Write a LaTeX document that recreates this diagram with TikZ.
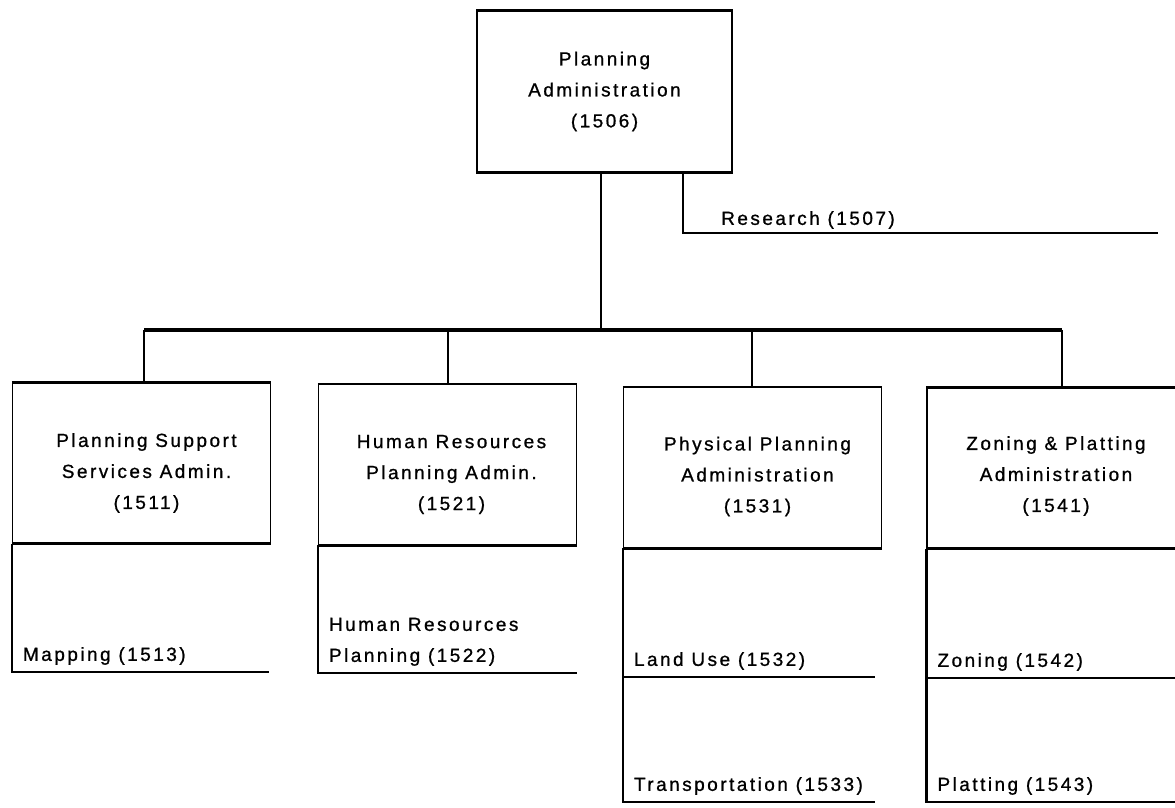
\documentclass[tikz,border=0pt]{standalone}
\usepackage{fontspec}
\setmainfont{Liberation Sans}[LetterSpace=13,FakeBold=0.9]
\usetikzlibrary{positioning}

\begin{document}
\begin{tikzpicture}[x=1pt,y=-1pt,font=\fontsize{19}{31}\selectfont,
    box/.style={draw,line width=1.4pt,minimum width=258pt,minimum height=160pt,inner sep=0pt},
    boxtext/.style={align=center,inner sep=0pt},
    unit/.style={anchor=south west,align=left,inner xsep=0pt,inner ysep=7pt,xshift=11pt},
    link/.style={line width=1.6pt},
    bus/.style={line width=3.2pt},
    rule/.style={line width=2.6pt}]
    \useasboundingbox (0,0) rectangle (1175,808);

    % top of the chart
    \node[box,minimum width=255pt,minimum height=161pt,align=center] (top) at (604.5,91.5)
        {Planning\\Administration\\(1506)};

    % the four administrations
    \node[box] (b1) at (141.5,463) {};
    \node[box] (b2) at (447.5,464.5) {};
    \node[box] (b3) at (752.5,467.5) {};
    \node[box,minimum width=254pt] (b4) at (1054,468) {};
    \node[boxtext] (t1511) at ([xshift=5pt,yshift=-10pt]b1.center) {Planning Support\\Services Admin.\\(1511)};
    \node[boxtext] (t1521) at ([xshift=4pt,yshift=-10pt]b2.center) {Human Resources\\Planning Admin.\\(1521)};
    \node[boxtext] (t1531) at ([xshift=5pt,yshift=-9pt]b3.center) {Physical Planning\\Administration\\(1531)};
    \node[boxtext] (t1541) at ([xshift=2pt,yshift=-8pt]b4.center) {Zoning \& Platting\\Administration\\(1541)};

    % heavier top and bottom edges
    \foreach \b in {top,b1,b2,b3,b4}
        \draw[rule] (\b.north west) -- (\b.north east) (\b.south west) -- (\b.south east);

    % bus and drops
    \coordinate (hub) at (601,330);
    \coordinate (d1) at (144,330);
    \coordinate (d2) at (448,330);
    \coordinate (d3) at (752,330);
    \coordinate (d4) at (1062,330);
    \draw[link] (top.south -| hub) -- (hub);
    \draw[bus] (d1) -- (d4);
    \foreach \d/\b in {d1/b1,d2/b2,d3/b3,d4/b4}
        \draw[link] (\d) -- (\d |- \b.north);

    % research
    \coordinate (rc) at (683,233);
    \coordinate (rend) at (1158,233);
    \draw[rule] (rc |- top.south) -- (rc) -- (rend);
    \node[unit,xshift=27pt,inner ysep=4pt] (u1507) at (rc) {Research (1507)};

    % sections
    \coordinate (l1513) at (269,672);
    \coordinate (l1522) at (577,673);
    \coordinate (l1532) at (875,677);
    \coordinate (l1533) at (875,802);
    \coordinate (l1542) at (1175,678);
    \coordinate (l1543) at (1175,802);
    \draw[rule] (b1.south west) |- (l1513);
    \draw[rule] (b2.south west) |- (l1522);
    \draw[rule] (b3.south west) |- (l1533);
    \draw[rule] (b3.south west |- l1532) -- (l1532);
    \draw[rule] (b4.south west) |- (l1543);
    \draw[rule] (b4.south west |- l1542) -- (l1542);

    \node[unit] (u1513) at (b1.south west |- l1513) {Mapping (1513)};
    \node[unit] (u1522) at (b2.south west |- l1522) {Human Resources\\Planning (1522)};
    \node[unit] (u1532) at (b3.south west |- l1532) {Land Use (1532)};
    \node[unit] (u1533) at (b3.south west |- l1533) {Transportation (1533)};
    \node[unit] (u1542) at (b4.south west |- l1542) {Zoning (1542)};
    \node[unit] (u1543) at (b4.south west |- l1543) {Platting (1543)};
\end{tikzpicture}
\end{document}
